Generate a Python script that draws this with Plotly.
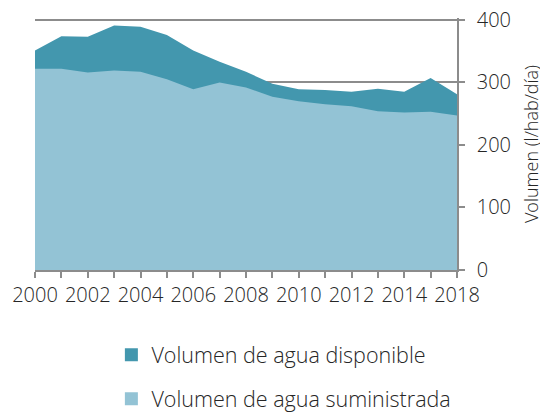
import plotly.graph_objects as go

years = ["2000", "2001", "2002", "2003", "2004", "2005", "2006", "2007", "2008",
         "2009", "2010", "2011", "2012", "2013", "2014", "2016", "2018"]
disponible = [351, 374, 373, 391, 389, 376, 351, 333, 317,
              298, 289, 288, 285, 290, 285, 307, 281]
suministrada = [322, 322, 316, 319, 317, 305, 289, 300, 292,
                277, 270, 265, 262, 254, 252, 253, 247]
tick_labels = [y if i % 2 == 0 else "" for i, y in enumerate(years)]

name_disp = "Volumen de agua disponible"
name_sum = "Volumen de agua suministrada"
col_disp = "#4397AE"
col_sum = "#93C3D5"
font_family = "Open Sans"
text_col = "#262626"
grid_col = "#8C8C8C"

fig = go.Figure()
fig.add_trace(go.Scatter(x=years, y=disponible, mode="none", fill="tozeroy",
                         fillcolor=col_disp, showlegend=False, hoverinfo="skip"))
fig.add_trace(go.Scatter(x=years, y=suministrada, mode="none", fill="tozeroy",
                         fillcolor=col_sum, showlegend=False, hoverinfo="skip"))
# legend entries
fig.add_trace(go.Scatter(x=[None], y=[None], mode="markers", name=name_disp,
                         marker=dict(symbol="square", size=13, color=col_disp),
                         legendgroup="a"))
fig.add_trace(go.Scatter(x=[None], y=[None], mode="markers", name=name_sum,
                         marker=dict(symbol="square", size=13, color=col_sum),
                         legendgroup="b"))

fig.update_layout(
    width=540, height=404,
    margin=dict(l=27, r=91, t=10, b=142, autoexpand=False),
    paper_bgcolor="white", plot_bgcolor="white",
    font=dict(family=font_family, size=20, color=text_col, weight=300),
    showlegend=True,
    legend=dict(x=0.181, xanchor="left", y=-0.255, yanchor="top",
                tracegroupgap=13, font=dict(size=21.5, color=text_col, weight=300),
                bgcolor="rgba(0,0,0,0)"),
    xaxis=dict(type="category", categoryorder="array", categoryarray=years,
               tickmode="array", tickvals=years, ticktext=tick_labels,
               range=[0, len(years) - 1], ticklabeloverflow="allow",
               showgrid=False, showline=True, linecolor=grid_col, linewidth=1.5,
               ticks="outside", ticklen=6, tickcolor=grid_col, tickwidth=1.5,
               tickfont=dict(size=20, color=text_col, weight=300), zeroline=False),
    yaxis=dict(side="right", range=[0, 403], tickvals=[0, 100, 200, 300, 400],
               showgrid=True, gridcolor=grid_col, gridwidth=1.5,
               showline=True, linecolor=grid_col, linewidth=1.5,
               ticks="outside", ticklen=6, tickcolor=grid_col, tickwidth=1.5,
               ticklabelstandoff=8, ticklabeloverflow="allow",
               tickfont=dict(size=20, color=text_col, weight=300), zeroline=False,
               title=dict(text="Volumen (l/hab/día)",
                          font=dict(size=18, color=text_col, weight=300),
                          standoff=15)),
)

fig.write_html("out.html")
